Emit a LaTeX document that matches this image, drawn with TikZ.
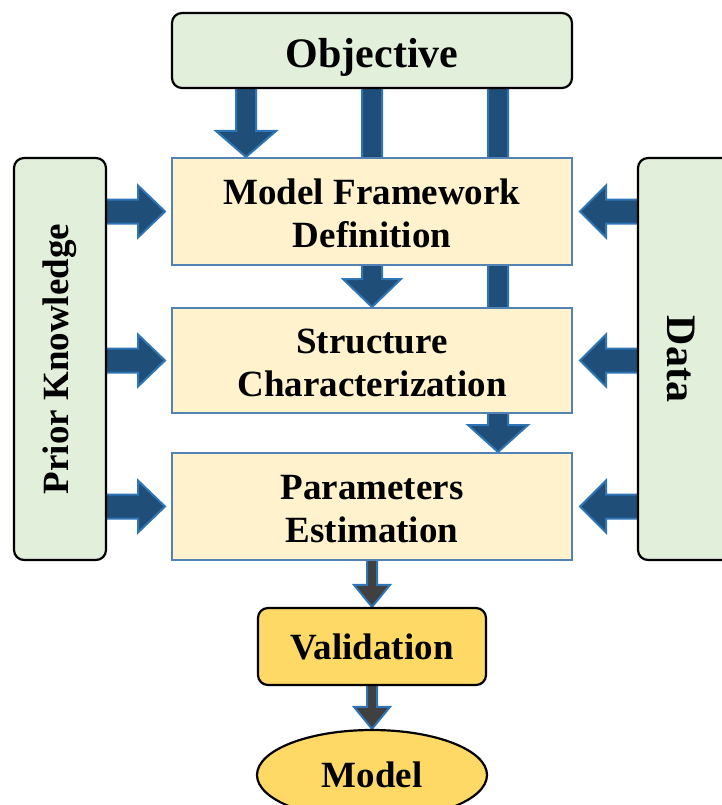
\documentclass[tikz,border=0pt]{standalone}
\usepackage{fontspec}
\setmainfont{Liberation Serif}
\usetikzlibrary{shapes.geometric,calc}
\pgfdeclarelayer{bg}
\pgfsetlayers{bg,main}
\definecolor{greenfill}{HTML}{E2EFDA}
\definecolor{yellowfill}{HTML}{FFF2CC}
\definecolor{boxblue}{HTML}{5382B5}
\definecolor{arrowfill}{HTML}{1F4E79}
\definecolor{arrowedge}{HTML}{2E75B6}
\definecolor{goldfill}{HTML}{FFD966}
\definecolor{grayfill}{HTML}{404040}
\newcommand\tstrut{\rule{0pt}{30pt}}
\tikzset{
  greenbox/.style={draw=black, line width=2.2pt, fill=greenfill, rounded corners=10pt, inner sep=0pt},
  yellowbox/.style={draw=boxblue, line width=2pt, fill=yellowfill, inner sep=0pt,
    minimum width=400pt, align=center, font=\bfseries\fontsize{37}{43}\selectfont},
  goldbox/.style={draw=black, line width=2.2pt, fill=goldfill, inner sep=0pt,
    font=\bfseries\fontsize{37}{43}\selectfont},
  bluearrow/.style={fill=arrowfill, draw=arrowedge, line width=2pt, line join=miter},
  grayarrow/.style={fill=grayfill, draw=arrowedge, line width=2pt, line join=miter},
  bigtext/.style={font=\bfseries\fontsize{42}{48}\selectfont},
  sidetext/.style={font=\bfseries\fontsize{37}{43}\selectfont}
}
% #1 options, #2 start, #3 tip, #4 shaft half width, #5 head half width, #6 head length
\newcommand\downblock[6]{%
  \path[#1] let \p1=#2, \p2=#3 in
    (\x2-#4,\y1) -- (\x2-#4,\y2+#6) -- (\x2-#5,\y2+#6) -- (\x2,\y2)
    -- (\x2+#5,\y2+#6) -- (\x2+#4,\y2+#6) -- (\x2+#4,\y1) -- cycle;}
\newcommand\rightblock[6]{%
  \path[#1] let \p1=#2, \p2=#3 in
    (\x1,\y2+#4) -- (\x2-#6,\y2+#4) -- (\x2-#6,\y2+#5) -- (\x2,\y2)
    -- (\x2-#6,\y2-#5) -- (\x2-#6,\y2-#4) -- (\x1,\y2-#4) -- cycle;}
\newcommand\leftblock[6]{%
  \path[#1] let \p1=#2, \p2=#3 in
    (\x1,\y2+#4) -- (\x2+#6,\y2+#4) -- (\x2+#6,\y2+#5) -- (\x2,\y2)
    -- (\x2+#6,\y2-#5) -- (\x2+#6,\y2-#4) -- (\x1,\y2-#4) -- cycle;}
\begin{document}
\begin{tikzpicture}[x=1pt,y=-1pt]
\useasboundingbox (0,0) rectangle (721,805);

% boxes
\node[greenbox, minimum width=400pt, minimum height=75pt, bigtext,
      text height=35pt, text depth=0pt] (obj) at (372,50.5) {Objective};
\node[yellowbox, minimum height=107pt] (mfd) at (372,211.5) {\tstrut Model Framework\\Definition};
\node[yellowbox, minimum height=105pt] (sc) at (372,360.5) {\tstrut Structure\\Characterization};
\node[yellowbox, minimum height=107pt] (pe) at (372,506.5) {\tstrut Parameters\\Estimation};
\node[greenbox, minimum width=92pt, minimum height=402pt] (prior) at (60,359) {};
\node[sidetext, rotate=90] (priortext) at (prior.center) {Prior Knowledge};
\node[greenbox, minimum width=100pt, minimum height=402pt] (data) at (688,359) {};
\node[bigtext, rotate=-90] (datatext) at ($(data.center)+(-7,0)$) {Data};
\node[goldbox, rounded corners=10pt, minimum width=228pt, minimum height=77pt] (val) at (372,646.5) {Validation};
\node[goldbox, ellipse, minimum width=230pt, minimum height=90pt] (model) at (372,775) {Model};

% arrows (behind boxes)
\begin{pgfonlayer}{bg}
  \downblock{bluearrow}{(obj.center -| 246,0)}{(mfd.north -| 246,0)}{10pt}{30pt}{26pt}
  \downblock{bluearrow}{(obj.center)}{(sc.north)}{10pt}{29pt}{28pt}
  \downblock{bluearrow}{(obj.center -| 498,0)}{(pe.north -| 498,0)}{10pt}{30pt}{27pt}
  \rightblock{bluearrow}{(prior.center)}{($(mfd.west)+(-6,0)$)}{12pt}{26pt}{27pt}
  \rightblock{bluearrow}{(prior.center)}{($(sc.west)+(-6,0)$)}{12pt}{26pt}{27pt}
  \rightblock{bluearrow}{(prior.center)}{($(pe.west)+(-6,0)$)}{12pt}{26pt}{27pt}
  \leftblock{bluearrow}{(data.center)}{($(mfd.east)+(7,0)$)}{12pt}{26pt}{26pt}
  \leftblock{bluearrow}{(data.center)}{($(sc.east)+(7,0)$)}{12pt}{26pt}{26pt}
  \leftblock{bluearrow}{(data.center)}{($(pe.east)+(7,0)$)}{12pt}{26pt}{26pt}
  \downblock{grayarrow}{(pe.center)}{(val.north)}{5pt}{18pt}{22pt}
  \downblock{grayarrow}{(val.center)}{(model.north)}{5pt}{18pt}{22pt}
\end{pgfonlayer}
\end{tikzpicture}
\end{document}
